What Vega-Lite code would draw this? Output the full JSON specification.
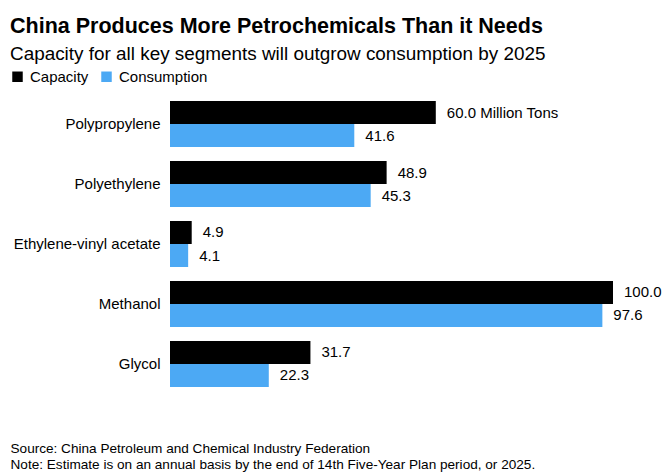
{
  "$schema": "https://vega.github.io/schema/vega-lite/v6.json",
  "width": 443,
  "height": 300,
  "autosize": {"type": "pad"},
  "padding": {"left": 10, "top": 15, "right": 10, "bottom": 8},
  "background": "white",
  "config": {"view": {"stroke": null}, "font": "Liberation Sans"},
  "title": {
    "text": "China Produces More Petrochemicals Than it Needs",
    "subtitle": "Capacity for all key segments will outgrow consumption by 2025",
    "anchor": "start",
    "fontSize": 21.5,
    "fontWeight": "bold",
    "color": "#000000",
    "subtitleFontSize": 18.9,
    "subtitleColor": "#000000",
    "subtitlePadding": 8,
    "offset": 5
  },
  "data": {
    "values": [
      {"segment": "Polypropylene", "type": "Capacity", "value": 60.0, "label": "60.0 Million Tons"},
      {"segment": "Polypropylene", "type": "Consumption", "value": 41.6, "label": "41.6"},
      {"segment": "Polyethylene", "type": "Capacity", "value": 48.9, "label": "48.9"},
      {"segment": "Polyethylene", "type": "Consumption", "value": 45.3, "label": "45.3"},
      {"segment": "Ethylene-vinyl acetate", "type": "Capacity", "value": 4.9, "label": "4.9"},
      {"segment": "Ethylene-vinyl acetate", "type": "Consumption", "value": 4.1, "label": "4.1"},
      {"segment": "Methanol", "type": "Capacity", "value": 100.0, "label": "100.0"},
      {"segment": "Methanol", "type": "Consumption", "value": 97.6, "label": "97.6"},
      {"segment": "Glycol", "type": "Capacity", "value": 31.7, "label": "31.7"},
      {"segment": "Glycol", "type": "Consumption", "value": 22.3, "label": "22.3"}
    ]
  },
  "encoding": {
    "y": {
      "field": "segment",
      "type": "nominal",
      "sort": ["Polypropylene", "Polyethylene", "Ethylene-vinyl acetate", "Methanol", "Glycol"],
      "scale": {"paddingInner": 0.233, "paddingOuter": 0.117},
      "axis": {"title": null, "domain": false, "ticks": false, "labelFontSize": 15, "labelPadding": 10, "labelColor": "#000000"}
    },
    "yOffset": {"field": "type", "type": "nominal", "sort": ["Capacity", "Consumption"]},
    "x": {
      "field": "value",
      "type": "quantitative",
      "scale": {"domain": [0, 100]},
      "axis": {
        "labels": false, "ticks": false, "domain": false, "grid": false,
        "title": ["Source: China Petroleum and Chemical Industry Federation", "Note: Estimate is on an annual basis by the end of 14th Five-Year Plan period, or 2025."],
        "titleX": -160, "titleY": 58, "titleAlign": "left", "titleAnchor": "start",
        "titleBaseline": "alphabetic", "titleFontSize": 13.6, "titleFontWeight": "normal",
        "titleLineHeight": 16, "titleColor": "#000000"
      }
    }
  },
  "layer": [
    {
      "mark": {"type": "bar"},
      "encoding": {
        "color": {
          "field": "type",
          "type": "nominal",
          "scale": {"domain": ["Capacity", "Consumption"], "range": ["#000000", "#4ca9f4"]},
          "legend": {
            "title": null, "orient": "none", "legendX": -160, "legendY": -25,
            "direction": "horizontal", "symbolType": "square", "symbolSize": 110,
            "symbolStrokeWidth": 0, "labelFontSize": 15, "labelColor": "#000000",
            "columnPadding": 10, "labelOffset": 5
          }
        }
      }
    },
    {
      "mark": {"type": "text", "align": "left", "baseline": "middle", "dx": 11, "fontSize": 15, "color": "#000000"},
      "encoding": {"text": {"field": "label"}}
    }
  ]
}
